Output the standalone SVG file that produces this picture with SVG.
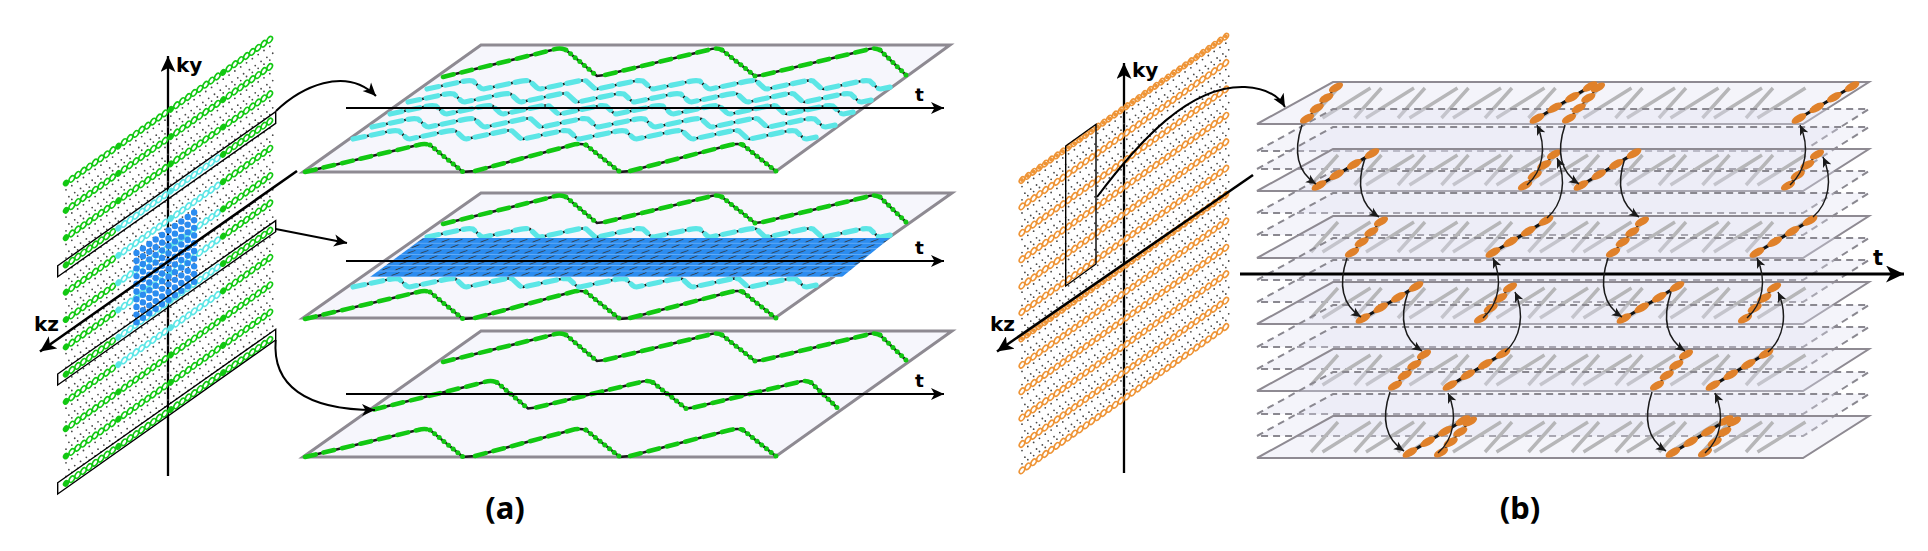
<svg xmlns="http://www.w3.org/2000/svg" width="1928" height="551" viewBox="0 0 1928 551">
<style>
text{font-family:"DejaVu Sans",sans-serif;font-weight:700;fill:#000}
.cap{font-family:"Noto Sans",sans-serif}
.ax{fill:none;stroke:#000;stroke-width:2.3}
.slit{fill:none;stroke:#000;stroke-width:1.400}
.pa{fill:#f6f6fc;stroke:#8e8a92;stroke-width:3}
.ps{fill:#dfe0f0;fill-opacity:.35;stroke:#8e8a92;stroke-width:2}
.pd{fill:#dfe0f0;fill-opacity:.35;stroke:#8a8890;stroke-width:2;stroke-dasharray:7 5}
.hatch{fill:none;stroke:#b6b6b8;stroke-width:3.400}
.dots{fill:none;stroke:#4a4a4a;stroke-width:1.800;stroke-linecap:round;stroke-dasharray:0 7.120}
.bk{fill:none;stroke:#1a1a1a;stroke-width:2.500}
.gu{fill:none;stroke:#12c812;stroke-width:4.600;stroke-linecap:round;stroke-dasharray:11 8}
.gd{fill:none;stroke:#12c812;stroke-width:5;stroke-linecap:round;stroke-dasharray:0 6}
.cy{fill:none;stroke:#5ce6e6;stroke-width:5.200;stroke-linecap:round;stroke-dasharray:12 6.500}
.cv{fill:none;stroke:#1a1a1a;stroke-width:1.500;marker-end:url(#as)}
.ar{fill:none;stroke:#000;stroke-width:2;marker-end:url(#am)}
.sb{fill:#e0812a}
</style>
<defs>
<marker id="as" markerUnits="userSpaceOnUse" markerWidth="12" markerHeight="10" refX="10" refY="5" orient="auto"><path d="M0 .5L10 5L0 9.500L2.500 5z" fill="#1a1a1a"/></marker>
<marker id="am" markerUnits="userSpaceOnUse" markerWidth="15" markerHeight="13" refX="13" refY="6.500" orient="auto"><path d="M0 .5L13 6.500L0 12.500L3.500 6.500z"/></marker>
<marker id="al" markerUnits="userSpaceOnUse" markerWidth="17" markerHeight="15" refX="16" refY="7.500" orient="auto"><path d="M0 0L16 7.500L0 15L4 7.500z"/></marker>
<marker id="ab" markerUnits="userSpaceOnUse" markerWidth="19" markerHeight="17" refX="18" refY="8.500" orient="auto"><path d="M0 0L18 8.500L0 17L5 8.500z"/></marker>
<ellipse id="rg" rx="2.200" ry="3.600" transform="rotate(35)" fill="none" stroke="currentColor" stroke-width="1.600"/>
<ellipse id="dt" rx="2.900" ry="3.700" transform="rotate(35)" fill="currentColor"/>
<g id="r8"><use href="#rg" x="5.820" y="-4.100"/><use href="#rg" x="11.640" y="-8.190"/><use href="#rg" x="17.460" y="-12.290"/><use href="#rg" x="23.280" y="-16.380"/><use href="#rg" x="29.100" y="-20.480"/><use href="#rg" x="34.920" y="-24.580"/><use href="#rg" x="40.740" y="-28.670"/><use href="#rg" x="46.560" y="-32.770"/></g>
<g id="sg"><use href="#dt"/><use href="#r8"/></g>
<g id="rowG"><use href="#sg"/><use href="#sg" x="52.380" y="-36.860"/><use href="#sg" x="104.760" y="-73.720"/><use href="#sg" x="157.140" y="-110.600"/></g>
<g id="rowC"><use href="#sg" style="color:#12c812"/><g style="color:#5ce6e6"><use href="#sg" x="52.380" y="-36.860"/><use href="#sg" x="104.760" y="-73.720"/></g><use href="#sg" x="157.140" y="-110.600" style="color:#12c812"/></g>
<g id="sgo"><use href="#rg"/><use href="#r8"/></g>
<g id="rowO"><use href="#sgo"/><use href="#sgo" x="52.380" y="-36.860"/><use href="#sgo" x="104.760" y="-73.720"/><use href="#sgo" x="157.140" y="-110.600"/></g>
<path id="dl" class="dots" d="M0 0l204-143.500"/>
<g id="dga"><use href="#dl" y="6.800"/><use href="#dl" y="13.650" x="2.900"/><use href="#dl" y="20.500"/></g>
<g id="dgb"><use href="#dl" y="6.600"/><use href="#dl" y="13.200" x="2.900"/><use href="#dl" y="19.800"/></g>
<path id="wv" d="M0 0l36-7.600q6-1.400 10-.4l7 6.500q1.700 1.500 3.700 1.500l36-7.600q6-1.400 10-.4l7 6.500q1.700 1.500 3.700 1.500l36-7.600q6-1.400 10-.4l7 6.500q1.700 1.500 3.700 1.500l36-7.600q6-1.400 10-.4l7 6.500q1.700 1.500 3.700 1.500l36-7.600q6-1.400 10-.4l7 6.500q1.700 1.500 3.700 1.500l36-7.600q6-1.400 10-.4l7 6.500q1.700 1.500 3.700 1.500l36-7.600q6-1.400 10-.4l7 6.500q1.700 1.500 3.700 1.500l36-7.600q6-1.400 10-.4l7 6.500q1.700 1.500 3.700 1.500l10-2"/>
<g id="wa"><use href="#wv" class="bk"/><use href="#wv" class="cy"/></g>
<path id="tuT" d="M443 77L552 50Q560 47 566 50M605 75L708 50Q716 47 722 50M763 75L866 50Q873 47 880 50"/>
<path id="tdT" d="M566 50L597 76M722 50L755 76M880 50L907 76"/>
<path id="tbT" d="M443 77L552 50Q560 47 566 50L597 76L605 75L708 50Q716 47 722 50L755 76L763 75L866 50Q873 47 880 50L907 76"/>
<g id="trT"><use href="#tbT" class="bk"/><use href="#tuT" class="gu"/><use href="#tdT" class="gd"/></g>
<path id="tuB" d="M305 172L418 145Q425 143 430 145M475 171L572 145Q580 143 586 145M630 171L730 145Q738 143 743 145"/>
<path id="tdB" d="M430 145L463 172M586 145L620 172M743 145L777 172"/>
<path id="tbB" d="M305 172L418 145Q425 143 430 145L463 172L475 171L572 145Q580 143 586 145L620 172L630 171L730 145Q738 143 743 145L777 172"/>
<g id="trB"><use href="#tbB" class="bk"/><use href="#tuB" class="gu"/><use href="#tdB" class="gd"/></g>
<pattern id="bd" patternUnits="userSpaceOnUse" width="13" height="5.570" patternTransform="translate(0 238) skewX(-36)"><rect width="13" height="5.570" fill="#2b8cf0"/><path d="M0 5.300H13" stroke="#7db9f6" stroke-width=".8"/><path d="M3 3.900l5-2.500" stroke="#333" stroke-width="1" stroke-linecap="round"/></pattern>
<path id="hc" class="hatch" d="M1311 36l27-30M1322.500 36l48-30M1354.500 36l27-30M1366 36l48-30M1398 36l27-30M1409.500 36l48-30M1441.500 36l27-30M1453 36l48-30M1485 36l27-30M1496.500 36l48-30M1528.500 36l27-30M1540 36l48-30M1572 36l27-30M1583.500 36l48-30M1615.500 36l27-30M1627 36l48-30M1659 36l27-30M1670.500 36l48-30M1702.500 36l27-30M1714 36l48-30M1746 36l27-30M1757.500 36l48-30"/>
<path id="pls" class="ps" d="M1257 42L1333 0H1869L1803 42z"/>
<path id="pld" class="pd" d="M1257 42L1333 0H1869L1803 42z"/>
<g id="stS"><path d="M0 0l29-31" stroke="#111" stroke-width="1.800" fill="none"/><ellipse class="sb" rx="7.800" ry="3.800" transform="rotate(-28)"/><ellipse class="sb" cx="9.700" cy="-10.300" rx="7.800" ry="3.800" transform="rotate(-28 9.700 -10.300)"/><ellipse class="sb" cx="19.300" cy="-20.600" rx="7.800" ry="3.800" transform="rotate(-28 19.300 -20.600)"/><ellipse class="sb" cx="29" cy="-31" rx="7.800" ry="3.800" transform="rotate(-28 29 -31)"/></g>
<g id="stL"><path d="M0 0l53-32" stroke="#111" stroke-width="3.200" fill="none"/><ellipse class="sb" rx="8.300" ry="3.800" transform="rotate(-30)"/><ellipse class="sb" cx="17.700" cy="-10.700" rx="8.300" ry="3.800" transform="rotate(-30 17.700 -10.700)"/><ellipse class="sb" cx="35.300" cy="-21.300" rx="8.300" ry="3.800" transform="rotate(-30 35.300 -21.300)"/><ellipse class="sb" cx="53" cy="-32" rx="8.300" ry="3.800" transform="rotate(-30 53 -32)"/></g>
</defs>

<g id="kspace-a">
<path class="ax" d="M168 476V56" style="marker-end:url(#al)"/>
<use href="#dga" x="66" y="183"/><use href="#dga" x="66" y="210.300"/><use href="#dga" x="66" y="237.600"/><use href="#dga" x="66" y="264.900"/><use href="#dga" x="66" y="292.200"/><use href="#dga" x="66" y="319.500"/><use href="#dga" x="66" y="346.800"/><use href="#dga" x="66" y="374.100"/><use href="#dga" x="66" y="401.400"/><use href="#dga" x="66" y="428.700"/><use href="#dga" x="66" y="456"/>
<g style="color:#12c812"><use href="#rowG" x="66" y="183"/><use href="#rowG" x="66" y="210.300"/><use href="#rowG" x="66" y="237.600"/><use href="#rowC" x="66" y="264.900"/><use href="#rowC" x="66" y="292.200"/><use href="#rowC" x="66" y="319.500"/><use href="#rowC" x="66" y="346.800"/><use href="#rowC" x="66" y="374.100"/><use href="#rowC" x="66" y="401.400"/><use href="#rowG" x="66" y="428.700"/><use href="#rowG" x="66" y="456"/><use href="#rowG" x="66" y="483.300"/></g>
<path fill="none" stroke="#2b8cf0" stroke-width="6.400" stroke-linecap="round" stroke-dasharray="0 7.830" d="M136.500 253l63.500-44.700M136.500 260.700l63.500-44.700M136.500 268.400l63.500-44.700M136.500 276.100l63.500-44.700M136.500 283.800l63.500-44.700M136.500 291.500l63.500-44.700M136.500 299.200l63.500-44.700M136.500 306.900l63.500-44.700M136.500 314.600l63.500-44.700M136.500 322.300l63.500-44.700"/>
<path class="ax" d="M297 171L40 351.500" style="stroke-width:2.600;marker-end:url(#al)"/>
<path class="slit" d="M57.700 265.700L275.700 111.700V123.300L57.700 276.700z"/>
<path class="slit" d="M57.700 374L275.700 220.700V231.700L57.700 385z"/>
<path class="slit" d="M57.700 482.700L275.700 329.300V340L57.700 494z"/>
<text x="176" y="72" font-size="20">ky</text>
<text x="34" y="331" font-size="20">kz</text>
</g>

<g id="plane-a1">
<path class="pa" d="M303 172L481 45H950L775 172z"/>
<use href="#trT"/><use href="#trB"/>
<use href="#wa" x="427" y="89"/><use href="#wa" x="408" y="102"/><use href="#wa" x="390" y="114"/><use href="#wa" x="372" y="127"/><use href="#wa" x="353" y="139"/>
<path class="ar" d="M346 108H944"/>
<text x="915" y="101" font-size="18.500">t</text>
</g>
<g id="plane-a2">
<path class="pa" d="M303 318L481 193H952L775 318z"/>
<use href="#trT" y="147"/><use href="#trB" y="147"/>
<use href="#wa" x="427" y="237"/><use href="#wa" x="353" y="287"/>
<path d="M423 238H890L842 277H370z" fill="url(#bd)"/>
<path class="ar" d="M346 261H944"/>
<text x="915" y="254" font-size="18.500">t</text>
</g>
<g id="plane-a3">
<path class="pa" d="M303 457L481 331H952L775 457z"/>
<use href="#trT" y="285"/><use href="#trT" x="-69" y="332.500"/><use href="#trB" y="285"/>
<path class="ar" d="M346 394H944"/>
<text x="915" y="387" font-size="18.500">t</text>
</g>

<g id="kspace-b">
<path class="ax" d="M1124 473V63" style="marker-end:url(#al)"/>
<use href="#dgb" x="1022" y="180"/><use href="#dgb" x="1022" y="206.400"/><use href="#dgb" x="1022" y="232.800"/><use href="#dgb" x="1022" y="259.200"/><use href="#dgb" x="1022" y="285.600"/><use href="#dgb" x="1022" y="312"/><use href="#dgb" x="1022" y="338.400"/><use href="#dgb" x="1022" y="364.800"/><use href="#dgb" x="1022" y="391.200"/><use href="#dgb" x="1022" y="417.600"/><use href="#dgb" x="1022" y="444"/>
<g style="color:#ee9436"><use href="#rowO" x="1022" y="180"/><use href="#rowO" x="1022" y="206.400"/><use href="#rowO" x="1022" y="232.800"/><use href="#rowO" x="1022" y="259.200"/><use href="#rowO" x="1022" y="285.600"/><use href="#rowO" x="1022" y="312"/><use href="#rowO" x="1022" y="338.400"/><use href="#rowO" x="1022" y="364.800"/><use href="#rowO" x="1022" y="391.200"/><use href="#rowO" x="1022" y="417.600"/><use href="#rowO" x="1022" y="444"/><use href="#rowO" x="1022" y="470.400"/></g>
<path d="M1022 180l204-143.500M1022 338.400l204-143.500" fill="none" stroke="#ee9436" stroke-width="4" stroke-linecap="round" stroke-dasharray="0 7.120"/>
<path class="ax" d="M1253 175L997 351.500" style="stroke-width:2.600;marker-end:url(#al)"/>
<path class="slit" d="M1065.700 146L1096 124.300V264L1065.700 286z"/>
<text x="1132" y="77" font-size="20">ky</text>
<text x="990" y="331" font-size="20">kz</text>
</g>

<g id="plane-b1"><use href="#pls" y="82" style="fill:#f6f6fc;fill-opacity:1"/><use href="#hc" y="82"/><use href="#pld" y="109"/><use href="#pld" y="127"/></g>
<g id="plane-b2"><use href="#pls" y="149"/><use href="#hc" y="149"/><use href="#pld" y="171"/><use href="#pld" y="193"/></g>
<g id="plane-b3"><use href="#pls" y="216"/><use href="#hc" y="216"/><use href="#pld" y="238"/><use href="#pld" y="260"/></g>
<g id="plane-b4"><use href="#pls" y="282"/><use href="#hc" y="282"/><use href="#pld" y="305"/><use href="#pld" y="327"/></g>
<g id="plane-b5"><use href="#pls" y="349"/><use href="#hc" y="349"/><use href="#pld" y="372"/><use href="#pld" y="394"/></g>
<g id="plane-b6"><use href="#pls" y="416"/><use href="#hc" y="416"/></g>

<g id="strips">
<use href="#stS" x="1307" y="118.500"/><use href="#stL" x="1537" y="118.500"/><use href="#stS" x="1569" y="118.500"/><use href="#stL" x="1799" y="118.500"/>
<use href="#stL" x="1319" y="185.500"/><use href="#stS" x="1525" y="185.500"/><use href="#stL" x="1581" y="185.500"/><use href="#stS" x="1788" y="185.500"/>
<use href="#stS" x="1352" y="252.500"/><use href="#stL" x="1493" y="252.500"/><use href="#stS" x="1613" y="252.500"/><use href="#stL" x="1757" y="252.500"/>
<use href="#stL" x="1363" y="318.500"/><use href="#stS" x="1481" y="318.500"/><use href="#stL" x="1624" y="318.500"/><use href="#stS" x="1745" y="318.500"/>
<use href="#stS" x="1395" y="385.500"/><use href="#stL" x="1450" y="385.500"/><use href="#stS" x="1657" y="385.500"/><use href="#stL" x="1713" y="385.500"/>
<use href="#stL" x="1410" y="452.500"/><use href="#stS" x="1441" y="452.500"/><use href="#stL" x="1673" y="452.500"/><use href="#stS" x="1705" y="452.500"/>
</g>

<g id="time-axis-b">
<path class="ax" d="M1240 274H1904" style="stroke-width:3;marker-end:url(#ab)"/>
<text x="1873" y="265" font-size="21">t</text>
</g>

<g id="connectors">
<path class="ar" d="M276 111C300 88 345 65 376 96"/>
<path class="ar" d="M275.700 229L347 243"/>
<path class="ar" d="M275.700 340C272 385 305 410 375 410"/>
<path class="ar" d="M1097 197C1140 140 1190 85 1245 87C1265 88 1278 95 1285 107"/>
<path class="cv" d="M1302 125c-8 24-6 46 14 59"/>
<path class="cv" d="M1365 158c-8 24-6 46 14 59"/>
<path class="cv" d="M1565 125c-8 24-6 46 14 59"/>
<path class="cv" d="M1347 258c-8 24-6 46 14 59"/>
<path class="cv" d="M1408 292c-8 24-6 46 14 59"/>
<path class="cv" d="M1390 392c-8 24-6 46 14 59"/>
<path class="cv" d="M1625 158c-8 24-6 46 14 59"/>
<path class="cv" d="M1608 258c-8 24-6 46 14 59"/>
<path class="cv" d="M1671 292c-8 24-6 46 14 59"/>
<path class="cv" d="M1652 392c-8 24-6 46 14 59"/>
<path class="cv" d="M1527 185c16-14 20-38 10-60"/>
<path class="cv" d="M1547 218c16-14 20-38 10-60"/>
<path class="cv" d="M1483 318c16-14 20-38 10-60"/>
<path class="cv" d="M1438 453c16-14 20-38 10-60"/>
<path class="cv" d="M1505 352c16-14 20-38 10-60"/>
<path class="cv" d="M1705 453c16-14 20-38 10-60"/>
<path class="cv" d="M1768 352c16-14 20-38 10-60"/>
<path class="cv" d="M1747 318c16-14 20-38 10-60"/>
<path class="cv" d="M1813 217c16-14 20-38 10-60"/>
<path class="cv" d="M1790 185c16-14 20-38 10-60"/>
</g>
<text class="cap" x="505" y="519" font-size="31" text-anchor="middle">(a)</text>
<text class="cap" x="1520" y="519" font-size="31" text-anchor="middle">(b)</text>
</svg>
